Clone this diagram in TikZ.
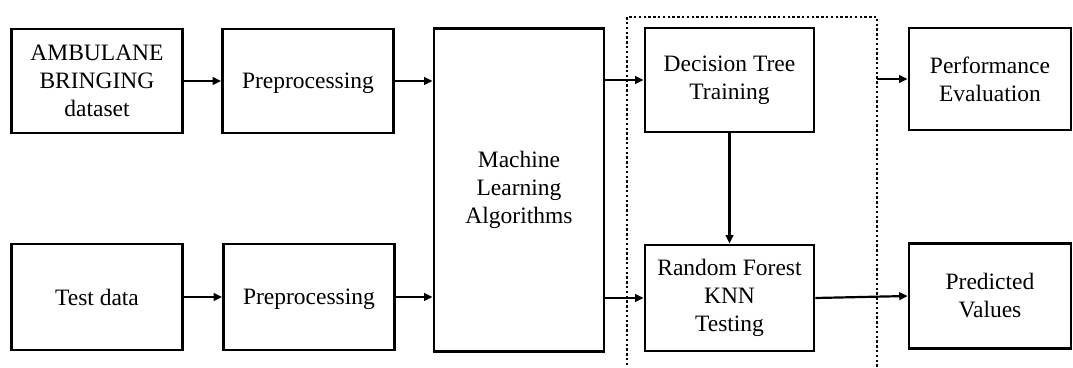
\documentclass[tikz,border=0pt]{standalone}
\usepackage{fontspec}
\setmainfont{LiberationSerif}[Extension=.ttf, UprightFont=*-Regular, BoldFont=*-Bold]
\usetikzlibrary{arrows.meta}
\begin{document}
\begin{tikzpicture}[x=1pt,y=-1pt,
  box/.style={draw, line width=2.6pt, inner sep=0pt, align=center,
    font=\fontsize{23.5}{28}\selectfont},
  conn/.style={line width=2.2pt, -{Triangle[length=8.5pt,width=7.5pt]}}]
\useasboundingbox (0,0) rectangle (1073,367);
\node[box, minimum width=171pt, minimum height=104pt] (ds) at (97,81) {AMBULANE\\BRINGING\\dataset};
\node[box, minimum width=171pt, minimum height=104pt, text depth=0pt] (p1) at (308,81) {Preprocessing};
\node[box, minimum width=170pt, minimum height=323pt] (ml) at (519,190) {Machine\\Learning\\Algorithms};
\node[box, minimum width=169pt, minimum height=104pt] (dt) at (729.5,80) {Decision Tree\\Training};
\node[box, minimum width=162pt, minimum height=102pt] (pe) at (990,79) {Performance\\Evaluation};
\node[box, minimum width=171pt, minimum height=106pt] (td) at (97,297) {Test data};
\node[box, minimum width=171pt, minimum height=106pt, text depth=0pt] (p2) at (309,297) {Preprocessing};
\node[box, minimum width=169pt, minimum height=106pt] (rf) at (729.5,298) {Random Forest\\KNN\\Testing};
\node[box, minimum width=162pt, minimum height=105pt] (pv) at (990,296) {Predicted\\Values};
% dotted group frame
\draw[line width=2.8pt, dash pattern=on 2.4pt off 2.4pt] (627,370) -- (627,17) -- (877,17) -- (877,370);
\coordinate (dr) at (877,79);
% connectors
\draw[conn] (ds.east) -- (ds.east -| p1.west);
\draw[conn] (p1.east) -- (p1.east -| ml.west);
\draw[conn] (ml.east |- dt.west) -- (dt.west);
\draw[conn] (td.east) -- (td.east -| p2.west);
\draw[conn] (p2.east) -- (p2.east -| ml.west);
\draw[conn] (ml.east |- rf.west) -- (rf.west);
\draw[conn] (dt.south) -- (rf.north);
\draw[conn] (dr) -- (dr -| pe.west);
\draw[conn] (rf.east) -- (pv.west);
\end{tikzpicture}
\end{document}
